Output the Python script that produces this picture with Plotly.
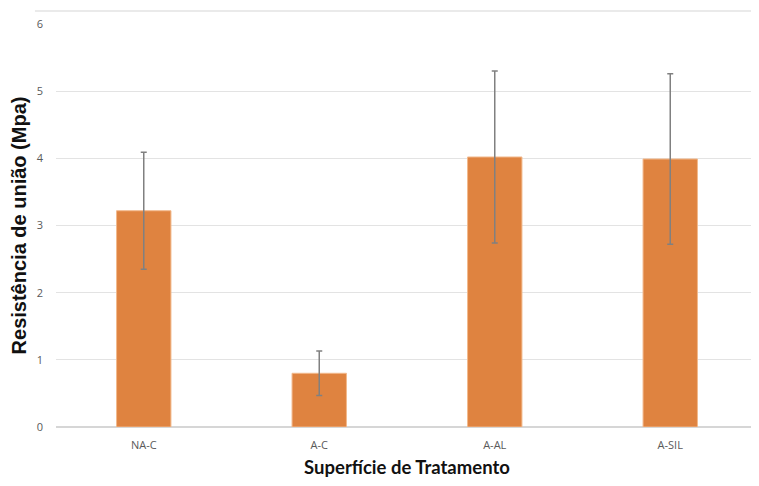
import plotly.graph_objects as go

categories = ["NA-C", "A-C", "A-AL", "A-SIL"]
values = [3.22, 0.80, 4.02, 3.99]
errors = [0.87, 0.33, 1.28, 1.27]
y_ticks = [0, 1, 2, 3, 4, 5, 6]

fig = go.Figure()
fig.add_trace(go.Bar(
    x=categories, y=values,
    marker=dict(color="#DF8340", line=dict(color="#F2B98C", width=1)),
    width=0.31,
    error_y=dict(type="data", array=errors, visible=True,
                 color="#808080", thickness=1.5, width=3),
    showlegend=False,
))

fig.update_layout(
    width=751, height=470,
    margin=dict(l=48, r=1, t=16, b=51),
    paper_bgcolor="white", plot_bgcolor="white",
    font=dict(family="Open Sans", color="#595959"),
    xaxis=dict(
        showgrid=False, showline=False, zeroline=False,
        tickfont=dict(size=11, color="#595959"),
        ticklabelstandoff=10,
        title=dict(text="Superfície de Tratamento",
                   font=dict(family="Lato", size=18.5, color="#111111", weight="bold"),
                   standoff=10),
    ),
    yaxis=dict(
        range=[0, 6], tickvals=y_ticks,
        showgrid=True, gridcolor="#E3E3E3", gridwidth=1.3,
        zeroline=True, zerolinecolor="#D6D6D6", zerolinewidth=1.5,
        showline=False,
        tickfont=dict(size=11, color="#595959"),
        ticklabelstandoff=12,
        title=dict(text="Resistência de união (Mpa)",
                   font=dict(family="Liberation Sans", size=20, color="#111111", weight="bold"),
                   standoff=8),
    ),
    shapes=[dict(type="line", xref="paper", yref="paper",
                 x0=-0.03, x1=1.02, y0=1.032, y1=1.032,
                 line=dict(color="#E3E3E3", width=1.5))],
)

fig.write_html("out.html")
